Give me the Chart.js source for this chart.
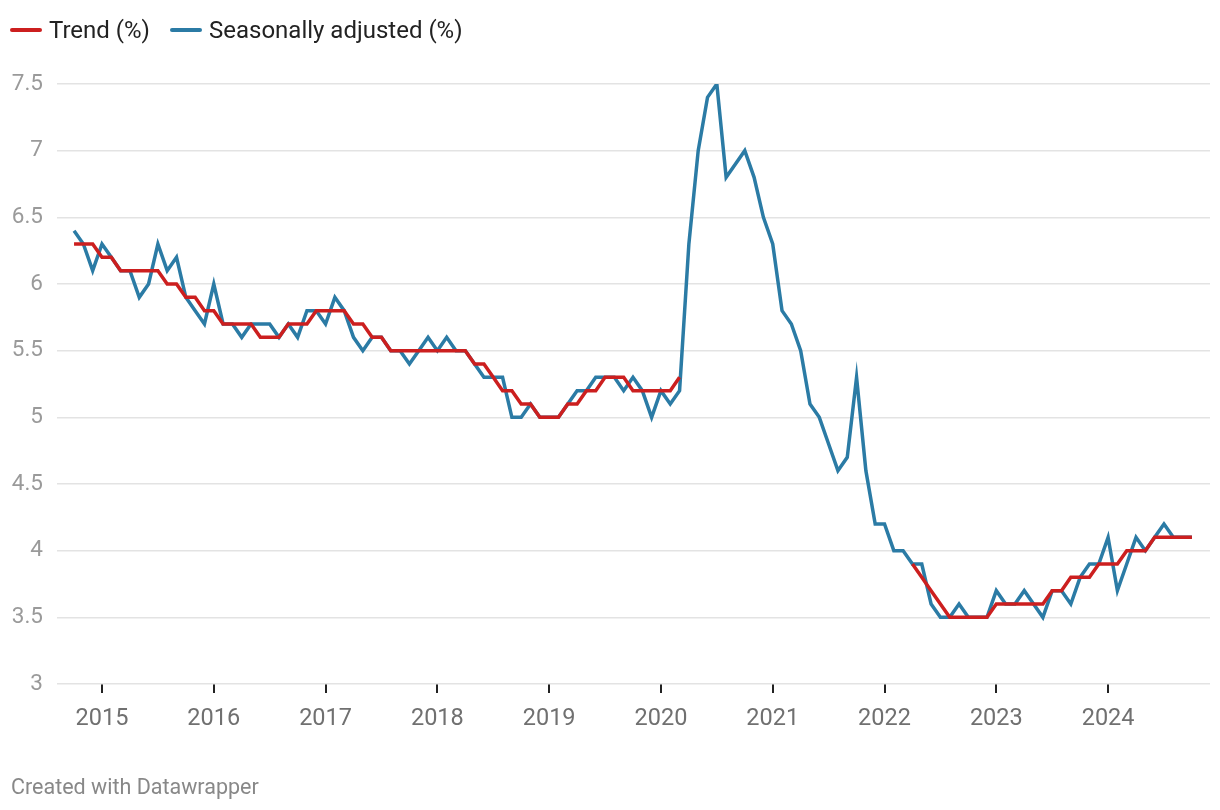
<!DOCTYPE html>
<html>
<head>
<meta charset="utf-8">
<script src="https://cdn.jsdelivr.net/npm/chart.js@4/dist/chart.umd.min.js"></script>
<style>
  html, body { margin: 0; padding: 0; background: #fff; }
  #wrap { position: relative; width: 1220px; height: 810px; font-family: Roboto, "Noto Sans", sans-serif; }
  #c { position: absolute; left: 0; top: 0; }
  .legend { position: absolute; left: 10px; top: 15px; height: 30px; display: flex; align-items: center; font-size: 24px; line-height: 30px; color: #222; white-space: nowrap; }
  .legend .sw { display: inline-block; width: 32px; height: 4px; border-radius: 2px; margin-right: 7px; }
  .legend .item { display: flex; align-items: center; margin-right: 20px; }
  .footer { position: absolute; left: 11px; top: 773px; font-size: 21.5px; line-height: 28px; color: #888; }
</style>
</head>
<body>
<div id="wrap">
  <canvas id="c"></canvas>
  <div class="legend">
    <span class="item"><span class="sw" style="background:#cc1f1f"></span>Trend (%)</span>
    <span class="item"><span class="sw" style="background:#2b7ba5"></span>Seasonally adjusted (%)</span>
  </div>
  <div class="footer">Created with Datawrapper</div>
</div>
<script>
// Monthly categories: Oct 2014 .. Oct 2024
const startYear = 2014, startMonth = 10, monthCount = 121;
const months = [];
for (let k = 0; k < monthCount; k++) {
  const m = (startMonth - 1 + k) % 12 + 1;
  const y = startYear + Math.floor((startMonth - 1 + k) / 12);
  months.push(y + '-' + String(m).padStart(2, '0'));
}

const yearLabels = ['2015','2016','2017','2018','2019','2020','2021','2022','2023','2024'];

const seasonallyAdjusted = [
  6.4,6.3,6.1,6.3,6.2,6.1,6.1,5.9,6.0,6.3,
  6.1,6.2,5.9,5.8,5.7,6.0,5.7,5.7,5.6,5.7,
  5.7,5.7,5.6,5.7,5.6,5.8,5.8,5.7,5.9,5.8,
  5.6,5.5,5.6,5.6,5.5,5.5,5.4,5.5,5.6,5.5,
  5.6,5.5,5.5,5.4,5.3,5.3,5.3,5.0,5.0,5.1,
  5.0,5.0,5.0,5.1,5.2,5.2,5.3,5.3,5.3,5.2,
  5.3,5.2,5.0,5.2,5.1,5.2,6.3,7.0,7.4,7.5,
  6.8,6.9,7.0,6.8,6.5,6.3,5.8,5.7,5.5,5.1,
  5.0,4.8,4.6,4.7,5.3,4.6,4.2,4.2,4.0,4.0,
  3.9,3.9,3.6,3.5,3.5,3.6,3.5,3.5,3.5,3.7,
  3.6,3.6,3.7,3.6,3.5,3.7,3.7,3.6,3.8,3.9,
  3.9,4.1,3.7,3.9,4.1,4.0,4.1,4.2,4.1,4.1,4.1
];

const trend = [
  6.3,6.3,6.3,6.2,6.2,6.1,6.1,6.1,6.1,6.1,
  6.0,6.0,5.9,5.9,5.8,5.8,5.7,5.7,5.7,5.7,
  5.6,5.6,5.6,5.7,5.7,5.7,5.8,5.8,5.8,5.8,
  5.7,5.7,5.6,5.6,5.5,5.5,5.5,5.5,5.5,5.5,
  5.5,5.5,5.5,5.4,5.4,5.3,5.2,5.2,5.1,5.1,
  5.0,5.0,5.0,5.1,5.1,5.2,5.2,5.3,5.3,5.3,
  5.2,5.2,5.2,5.2,5.2,5.3,
  null,null,null,null,null,null,null,null,null,null,null,null,
  null,null,null,null,null,null,null,null,null,null,null,null,
  3.9,3.8,3.7,3.6,3.5,3.5,3.5,3.5,3.5,3.6,
  3.6,3.6,3.6,3.6,3.6,3.7,3.7,3.8,3.8,3.8,
  3.9,3.9,3.9,4.0,4.0,4.0,4.1,4.1,4.1,4.1,4.1
];

const yTicks = [3, 3.5, 4, 4.5, 5, 5.5, 6, 6.5, 7, 7.5];

const toPoints = arr => arr.map((v, i) => ({ x: i, y: v }));
const yearTickIndex = yearLabels.map(y => months.indexOf(y + '-01'));

new Chart(document.getElementById('c'), {
  type: 'line',
  data: {
    datasets: [
      { label: 'Trend (%)', data: toPoints(trend), borderColor: '#cc1f1f', borderWidth: 3.5, pointRadius: 0, tension: 0, spanGaps: false },
      { label: 'Seasonally adjusted (%)', data: toPoints(seasonallyAdjusted), borderColor: '#2b7ba5', borderWidth: 3.5, pointRadius: 0, tension: 0 }
    ]
  },
  options: {
    responsive: true,
    maintainAspectRatio: false,
    animation: false,
    layout: { padding: { top: 84, left: 10, right: 10, bottom: 0 } },
    plugins: { legend: { display: false }, tooltip: { enabled: false } },
    scales: {
      x: {
        type: 'linear',
        min: -1.83,
        max: 121.94,
        afterBuildTicks: s => { s.ticks = yearTickIndex.map(v => ({ value: v })); },
        afterFit: s => { s.height = 126; },
        border: { display: false },
        grid: { display: true, drawOnChartArea: false, drawTicks: true, tickLength: 9, color: '#222', lineWidth: 2 },
        ticks: {
          autoSkip: false,
          maxRotation: 0,
          padding: 12,
          color: '#707070',
          font: { family: 'Roboto', size: 23.5 },
          callback: v => { const k = yearTickIndex.indexOf(v); return k >= 0 ? yearLabels[k] : ''; }
        }
      },
      y: {
        min: 3,
        max: 7.5,
        afterBuildTicks: s => { s.ticks = yTicks.map(v => ({ value: v })); },
        afterFit: s => { s.width = 47; },
        border: { display: false },
        grid: { color: '#e3e3e3', lineWidth: 1.5, drawTicks: false },
        ticks: {
          padding: 14,
          color: '#9a9a9a',
          font: { family: 'Roboto', size: 22.5 },
          callback: v => String(v)
        }
      }
    }
  }
});
</script>
</body>
</html>
